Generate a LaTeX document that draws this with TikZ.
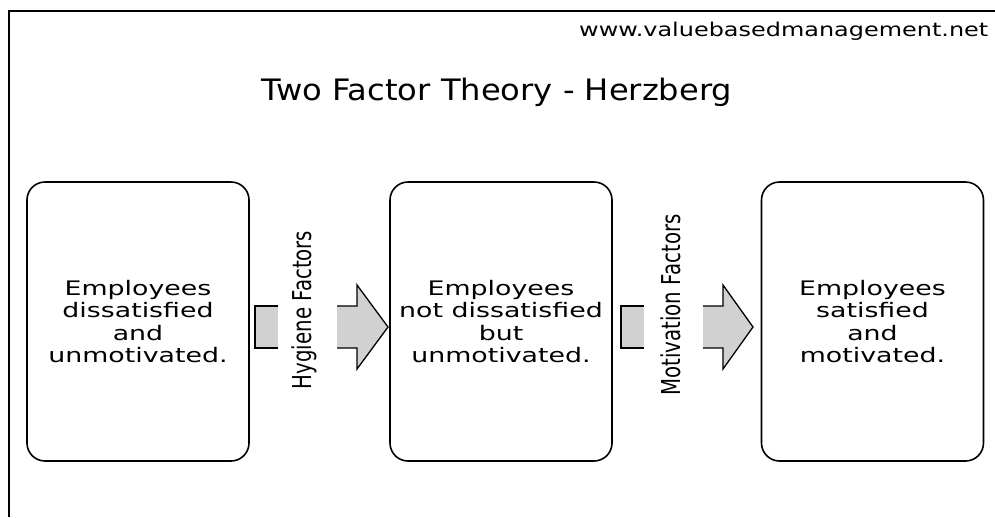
\documentclass[tikz,border=0pt]{standalone}
\usepackage{fontspec}
\setmainfont{DejaVu Sans}
\newfontfamily\boxfont{DejaVu Sans}[FakeStretch=1.34]
\newfontfamily\urlfont{DejaVu Sans}[FakeStretch=1.26]
\newfontfamily\factorfont{DejaVu Sans}[FakeStretch=0.76]
\newfontfamily\titlefont{DejaVu Sans}[FakeStretch=1.09]
\usepackage{tikz}

\begin{document}
\begin{tikzpicture}[x=1pt, y=-1pt, thick,
        state/.style = {draw, line width=1.6pt, rounded corners=18pt, minimum width=222pt, minimum height=279pt, align=center, font=\boxfont\fontsize{20}{22.5}\selectfont},
        factor/.style = {rotate=90, font=\factorfont\fontsize{26}{28}\selectfont},
        block/.style = {fill=black!18, draw=none}]
    \useasboundingbox (0,0) rectangle (995,517);
    % frame
    \draw[line width=1.2pt] (9,517) -- (9,11) -- (995,11);
    \node (url) [anchor=east, font=\urlfont\fontsize{19}{22}\selectfont] at (992,31) {www.valuebasedmanagement.net};
    \node (title) [font=\titlefont\fontsize{29.5}{34}\selectfont] at (497,92) {Two Factor Theory - Herzberg};
    % states
    \node[state] (1) at (138,321.5) {Employees\\dissatisfied\\and\\unmotivated.};
    \node[state] (2) at (501,321.5) {Employees\\not dissatisfied\\but\\unmotivated.};
    \node[state] (3) at (872.5,321.5) {Employees\\satisfied\\and\\motivated.};
    % factors
    \coordinate (h) at (255,327);
    \coordinate (m) at (621,327);
    \node[factor] (hy) at (304,310) {Hygiene Factors};
    \node[factor] (mo) at (671,305) {Motivation Factors};
    \foreach \c/\tip in {h/133, m/132} {
        \fill[block] ([shift={(0,-21)}]\c) rectangle ([shift={(23,21)}]\c);
        \draw[line width=1.3pt] ([shift={(23,-21)}]\c) -- ([shift={(0,-21)}]\c) -- ([shift={(0,21)}]\c) -- ([shift={(23,21)}]\c);
        \fill[block] ([shift={(82,-21)}]\c) -- ([shift={(102,-21)}]\c) -- ([shift={(102,-42)}]\c) -- ([shift={(\tip,0)}]\c) -- ([shift={(102,42)}]\c) -- ([shift={(102,21)}]\c) -- ([shift={(82,21)}]\c) -- cycle;
        \draw[line width=1.3pt] ([shift={(82,-21)}]\c) -- ([shift={(102,-21)}]\c) -- ([shift={(102,-42)}]\c) -- ([shift={(\tip,0)}]\c) -- ([shift={(102,42)}]\c) -- ([shift={(102,21)}]\c) -- ([shift={(82,21)}]\c);
    }
\end{tikzpicture}
\end{document}
